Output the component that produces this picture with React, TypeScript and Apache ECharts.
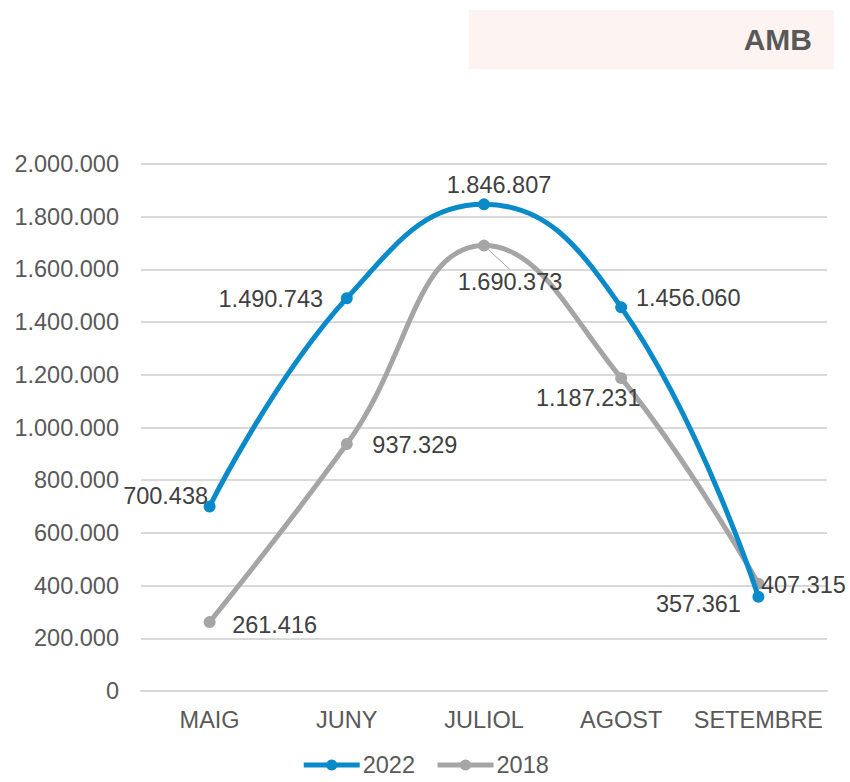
import React, { useEffect, useRef } from "react";
import * as echarts from "echarts";

const categories = ["MAIG", "JUNY", "JULIOL", "AGOST", "SETEMBRE"];
const values2022 = [700438, 1490743, 1846807, 1456060, 357361];
const values2018 = [261416, 937329, 1690373, 1187231, 407315];
const yTicks = { min: 0, max: 2000000, interval: 200000 };

// label offsets relative to point (style only)
const offsets2022: [number, number][] = [[-44, -10], [-76, 1], [15, -19], [67, -9], [-60, 7]];
const offsets2018: [number, number][] = [[65, 3], [68, 1], [26, 36], [-33, 20], [45, 1]];

const fmt = (v: number) => String(Math.round(v)).replace(/\B(?=(\d{3})+(?!\d))/g, ".");

const FONT = "'Liberation Sans', Arial, sans-serif";
const BLUE = "#0a8ac8";
const GRAY = "#a5a5a5";

export default function App() {
  const ref = useRef<HTMLDivElement>(null);
  useEffect(() => {
    document.body.style.margin = "0";
    if (!ref.current) return;
    const chart = echarts.init(ref.current, undefined, { renderer: "svg" });
    const labelStyle = { color: "#404040", fontSize: 23.5, fontFamily: FONT };
    chart.setOption({
      animation: false,
      backgroundColor: "#ffffff",
      textStyle: { fontFamily: FONT },
      title: {
        text: "AMB",
        right: 16,
        top: 10,
        padding: [14, 22, 14, 275],
        backgroundColor: "#fdf4f2",
        textStyle: { color: "#595959", fontSize: 30, fontWeight: "bold", fontFamily: FONT, lineHeight: 31 },
      },
      legend: {
        bottom: 0,
        left: "center",
        itemWidth: 56,
        itemHeight: 14,
        itemGap: 20,
        lineStyle: { width: 5 },
        textStyle: { color: "#595959", fontSize: 23.5, fontFamily: FONT, padding: [0, 0, 0, -2] },
        data: ["2022", "2018"],
      },
      grid: { left: 141, right: 23, top: 164, bottom: 91, containLabel: false },
      xAxis: {
        type: "category",
        data: categories,
        boundaryGap: true,
        axisLine: { show: true, lineStyle: { color: "#d9d9d9", width: 2 } },
        axisTick: { show: false },
        axisLabel: { interval: 0, color: "#595959", fontSize: 23.5, fontFamily: FONT, margin: 17 },
      },
      yAxis: {
        type: "value",
        min: yTicks.min,
        max: yTicks.max,
        interval: yTicks.interval,
        axisLine: { show: false },
        axisTick: { show: false },
        splitLine: { lineStyle: { color: "#d9d9d9", width: 2 } },
        axisLabel: { color: "#595959", fontSize: 23.5, fontFamily: FONT, margin: 22, formatter: (v: number) => fmt(v) },
      },
      series: [
        {
          name: "2022",
          type: "line",
          smooth: 0.45,
          symbol: "circle",
          symbolSize: 12,
          z: 3,
          lineStyle: { color: BLUE, width: 5 },
          itemStyle: { color: BLUE },
          data: values2022.map((v, i) => ({
            value: v,
            label: { show: true, position: "inside", offset: offsets2022[i], formatter: () => fmt(v), ...labelStyle },
          })),
        },
        {
          name: "2018",
          type: "line",
          smooth: 0.45,
          symbol: "circle",
          symbolSize: 12,
          z: 2,
          lineStyle: { color: GRAY, width: 5 },
          itemStyle: { color: GRAY },
          labelLayout: (params: any) => ({ dx: offsets2018[params.dataIndex][0], dy: offsets2018[params.dataIndex][1] }),
          data: values2018.map((v, i) => ({
            value: v,
            label: { show: true, position: "inside", formatter: () => fmt(v), ...labelStyle },
            labelLine: i === 2 ? { show: true, length2: 0, lineStyle: { color: GRAY, width: 1 } } : { show: false },
          })),
        },
      ],
    });
    return () => chart.dispose();
  }, []);
  return <div ref={ref} style={{ width: 850, height: 782 }} />;
}
